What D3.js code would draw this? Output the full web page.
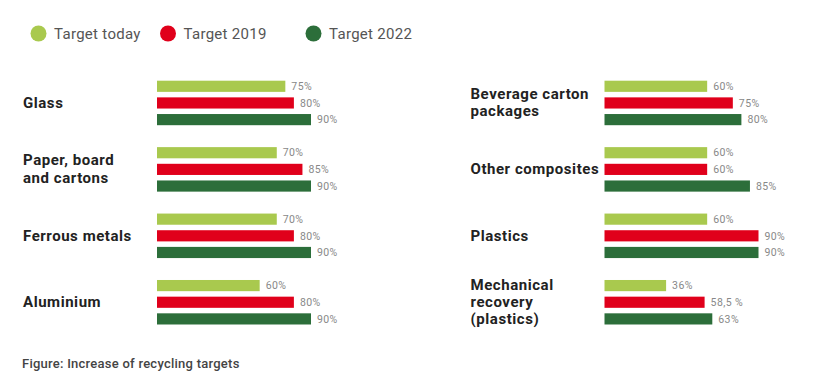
<!DOCTYPE html>
<html>
<head>
<meta charset="utf-8">
<script src="https://cdn.jsdelivr.net/npm/d3@7"></script>
<style>
  html, body { margin: 0; padding: 0; background: #fff; }
  svg { display: block; }
</style>
</head>
<body>
<svg id="chart" width="816" height="388"></svg>
<script>
// ---- data ----
const seriesNames = ["Target today", "Target 2019", "Target 2022"];
const seriesColors = ["#a9c94e", "#e0001b", "#2c6e3a"];
const leftCategories = [["Glass"], ["Paper, board", "and cartons"], ["Ferrous metals"], ["Aluminium"]];
const rightCategories = [["Beverage carton", "packages"], ["Other composites"], ["Plastics"], ["Mechanical", "recovery", "(plastics)"]];
const leftToday = [75, 70, 70, 60];
const left2019 = [80, 85, 80, 80];
const left2022 = [90, 90, 90, 90];
const rightToday = [60, 60, 60, 36];
const right2019 = [75, 60, 90, 58.5];
const right2022 = [80, 85, 90, 63];
const valueLabel = v => (v === 58.5 ? "58,5 %" : v + "%");
const caption = "Figure: Increase of recycling targets";

// ---- layout ----
const svg = d3.select("#chart");
const font = "Roboto, 'DejaVu Sans', sans-serif";

// legend
const legendX = [38.5, 168, 313.5];
const legend = svg.append("g");
seriesNames.forEach((n, i) => {
  legend.append("circle").attr("cx", legendX[i]).attr("cy", 33.5).attr("r", 8).attr("fill", seriesColors[i]);
  legend.append("text").attr("x", legendX[i] + 15.5).attr("y", 38.5)
    .attr("font-family", font).attr("font-size", 15).attr("letter-spacing", 0.3)
    .attr("fill", "#555").text(n);
});

// scales
const groupH = 44.5;
const y = d3.scaleBand().domain(d3.range(4)).range([80.7, 280 + groupH]).paddingInner(0.33).paddingOuter(0);
const ySub = d3.scaleBand().domain(d3.range(3)).range([0, groupH]).paddingInner(0.33);

function panel(x0, labelX, cats, vals, lh) {
  const x = d3.scaleLinear().domain([0, 90]).range([x0, x0 + 154]);
  const g = svg.append("g");
  cats.forEach((lines, ci) => {
    const gy = y(ci);
    const cy = gy + groupH / 2;
    const t = g.append("text").attr("font-family", font).attr("font-weight", 700)
      .attr("font-size", 15).attr("letter-spacing", 0.55).attr("fill", "#222");
    lines.forEach((ln, li) => {
      t.append("tspan").attr("x", labelX)
        .attr("y", cy + 5 + (li - (lines.length - 1) / 2) * lh).text(ln);
    });
    vals.forEach((arr, si) => {
      const v = arr[ci];
      const by = gy + ySub(si);
      g.append("rect").attr("x", x(0)).attr("y", by)
        .attr("width", x(v) - x(0)).attr("height", ySub.bandwidth())
        .attr("fill", seriesColors[si]);
      g.append("text").attr("x", x(v) + 6).attr("y", by + ySub.bandwidth() / 2 + 3.7)
        .attr("font-family", font).attr("font-size", 10.5).attr("letter-spacing", 0.4)
        .attr("fill", "#888").text(valueLabel(v));
    });
  });
}
panel(157, 23, leftCategories, [leftToday, left2019, left2022], 18);
panel(604.5, 470.5, rightCategories, [rightToday, right2019, right2022], 17);

svg.append("text").attr("x", 22).attr("y", 368).attr("font-family", font)
  .attr("font-weight", 500).attr("font-size", 13).attr("letter-spacing", 0.25)
  .attr("fill", "#444").text(caption);
</script>
</body>
</html>
